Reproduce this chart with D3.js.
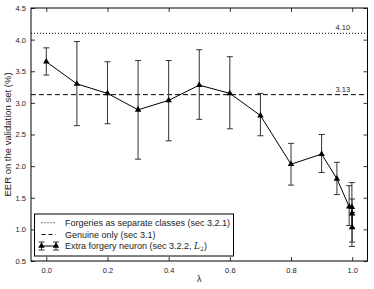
<!DOCTYPE html>
<html>
<head>
<meta charset="utf-8">
<script src="https://cdn.jsdelivr.net/npm/d3@7"></script>
<style>
  body { margin: 0; background: #fff; }
  svg text { font-family: "Liberation Sans", Arial, sans-serif; }
</style>
</head>
<body>
<svg id="chart"></svg>
<script>
const width = 374;
const height = 289;
const margin = { top: 8, right: 6.5, bottom: 28, left: 31 };

// data
const lambdas = [0.0, 0.1, 0.2, 0.3, 0.4, 0.5, 0.6, 0.7, 0.8, 0.9, 0.95, 0.99, 0.999, 0.9995, 1.0];
const eer     = [3.65, 3.30, 3.15, 2.89, 3.04, 3.28, 3.15, 2.80, 2.03, 2.19, 1.80, 1.36, 1.35, 1.25, 1.03];
const errLow  = [3.44, 2.64, 2.67, 2.11, 2.40, 2.74, 2.59, 2.48, 1.70, 1.90, 1.55, 1.06, 0.73, 1.02, 0.80];
const errHigh = [3.87, 3.97, 3.65, 3.67, 3.67, 3.84, 3.73, 3.15, 2.36, 2.50, 2.06, 1.69, 1.74, 1.48, 1.27];
const separateClasses = 4.10;
const genuineOnly = 3.13;
const xTicks = [0.0, 0.2, 0.4, 0.6, 0.8, 1.0];
const yTicks = [0.5, 1.0, 1.5, 2.0, 2.5, 3.0, 3.5, 4.0, 4.5];
const legendLabels = ["Forgeries as separate classes (sec 3.2.1)", "Genuine only (sec 3.1)", "Extra forgery neuron (sec 3.2.2, "];

const svg = d3.select("#chart").attr("width", width).attr("height", height);

const x = d3.scaleLinear().domain([-0.05, 1.05]).range([margin.left, width - margin.right]);
const y = d3.scaleLinear().domain([0.5, 4.5]).range([height - margin.bottom, margin.top]);

const tri = d3.symbol().type(d3.symbolTriangle).size(18);

// axes, ticks pointing inward on all sides
const tickLen = 4;
svg.append("g").attr("transform", `translate(0,${y(0.5)})`)
  .call(d3.axisBottom(x).tickValues(xTicks).tickFormat(d3.format(".1f")).tickSizeInner(-tickLen).tickSizeOuter(0).tickPadding(7));
svg.append("g").attr("transform", `translate(0,${y(4.5)})`)
  .call(d3.axisTop(x).tickValues(xTicks).tickFormat("").tickSizeInner(-tickLen).tickSizeOuter(0));
svg.append("g").attr("transform", `translate(${x(-0.05)},0)`)
  .call(d3.axisLeft(y).tickValues(yTicks).tickFormat(d3.format(".1f")).tickSizeInner(-tickLen).tickSizeOuter(0).tickPadding(5));
svg.append("g").attr("transform", `translate(${x(1.05)},0)`)
  .call(d3.axisRight(y).tickValues(yTicks).tickFormat("").tickSizeInner(-tickLen).tickSizeOuter(0));
svg.selectAll(".domain").remove();
svg.selectAll(".tick text").attr("font-size", 7.5).attr("fill", "#222").attr("font-family", "Liberation Sans, Arial, sans-serif");
svg.selectAll(".tick line").attr("stroke", "#000").attr("stroke-width", 0.8);

// frame
svg.append("rect")
  .attr("x", x(-0.05)).attr("y", y(4.5))
  .attr("width", x(1.05) - x(-0.05)).attr("height", y(0.5) - y(4.5))
  .attr("fill", "none").attr("stroke", "#000").attr("stroke-width", 1);

// reference lines
svg.append("line")
  .attr("x1", x(-0.05)).attr("x2", x(1.05))
  .attr("y1", y(separateClasses)).attr("y2", y(separateClasses))
  .attr("stroke", "#000").attr("stroke-width", 1).attr("stroke-dasharray", "1,2");
svg.append("line")
  .attr("x1", x(-0.05)).attr("x2", x(1.05))
  .attr("y1", y(genuineOnly)).attr("y2", y(genuineOnly))
  .attr("stroke", "#000").attr("stroke-width", 1).attr("stroke-dasharray", "5,3");
svg.append("text").attr("x", x(1.0) - 2).attr("y", y(separateClasses) - 3)
  .attr("text-anchor", "end").attr("font-size", 7.5).attr("fill", "#222").text(separateClasses.toFixed(2));
svg.append("text").attr("x", x(1.0) - 2).attr("y", y(genuineOnly) - 3)
  .attr("text-anchor", "end").attr("font-size", 7.5).attr("fill", "#222").text(genuineOnly.toFixed(2));

// error bars
const pts = lambdas.map((l, i) => ({ l, v: eer[i], lo: errLow[i], hi: errHigh[i] }));
const eb = svg.append("g").attr("stroke", "#333").attr("stroke-width", 1);
pts.forEach(d => {
  eb.append("line").attr("x1", x(d.l)).attr("x2", x(d.l)).attr("y1", y(d.lo)).attr("y2", y(d.hi));
  eb.append("line").attr("x1", x(d.l) - 3).attr("x2", x(d.l) + 3).attr("y1", y(d.lo)).attr("y2", y(d.lo));
  eb.append("line").attr("x1", x(d.l) - 3).attr("x2", x(d.l) + 3).attr("y1", y(d.hi)).attr("y2", y(d.hi));
});

// main line + markers
svg.append("path").datum(pts)
  .attr("fill", "none").attr("stroke", "#000").attr("stroke-width", 1)
  .attr("d", d3.line().x(d => x(d.l)).y(d => y(d.v)));
svg.append("g").selectAll("path").data(pts).enter().append("path")
  .attr("transform", d => `translate(${x(d.l)},${y(d.v)})`)
  .attr("d", tri).attr("fill", "#000");

// axis labels
svg.append("text")
  .attr("transform", `translate(11,${(y(0.5) + y(4.5)) / 2}) rotate(-90)`)
  .attr("text-anchor", "middle").attr("font-size", 9.5).attr("fill", "#222")
  .text("EER on the validation set (%)");
svg.append("text")
  .attr("x", (x(-0.05) + x(1.05)) / 2).attr("y", 282)
  .attr("text-anchor", "middle").attr("font-size", 9).attr("fill", "#222")
  .attr("font-family", "DejaVu Serif, serif")
  .text("λ");

// legend
const lg = svg.append("g");
lg.append("rect").attr("x", 34.5).attr("y", 214).attr("width", 199).attr("height", 42)
  .attr("fill", "#fff").attr("stroke", "#000").attr("stroke-width", 1);
const rows = [222.7, 234.5, 246];
const hx1 = 41.5, hx2 = 56;
lg.append("line").attr("x1", hx1).attr("x2", hx2).attr("y1", rows[0]).attr("y2", rows[0])
  .attr("stroke", "#000").attr("stroke-dasharray", "1,2");
lg.append("line").attr("x1", hx1).attr("x2", hx2).attr("y1", rows[1]).attr("y2", rows[1])
  .attr("stroke", "#000").attr("stroke-dasharray", "4,3");
lg.append("line").attr("x1", hx1).attr("x2", hx2).attr("y1", rows[2]).attr("y2", rows[2])
  .attr("stroke", "#000");
[hx1, hx2].forEach(hx => {
  lg.append("line").attr("x1", hx).attr("x2", hx).attr("y1", rows[2] - 4).attr("y2", rows[2] + 4).attr("stroke", "#333");
  lg.append("line").attr("x1", hx - 3).attr("x2", hx + 3).attr("y1", rows[2] - 4).attr("y2", rows[2] - 4).attr("stroke", "#333");
  lg.append("line").attr("x1", hx - 3).attr("x2", hx + 3).attr("y1", rows[2] + 4).attr("y2", rows[2] + 4).attr("stroke", "#333");
  lg.append("path").attr("transform", `translate(${hx},${rows[2]})`).attr("d", tri).attr("fill", "#000");
});
legendLabels.forEach((t, i) => {
  const txt = lg.append("text").attr("x", 65).attr("y", rows[i] + 3.2)
    .attr("font-size", 9).attr("fill", "#222").text(t);
  if (i === 2) {
    txt.append("tspan").attr("font-family", "DejaVu Serif, serif").attr("font-style", "italic").text("L");
    txt.append("tspan").attr("font-family", "DejaVu Serif, serif").attr("font-size", 6).attr("dy", 2).text("2");
    txt.append("tspan").attr("dy", -2).text(")");
  }
});
</script>
</body>
</html>
